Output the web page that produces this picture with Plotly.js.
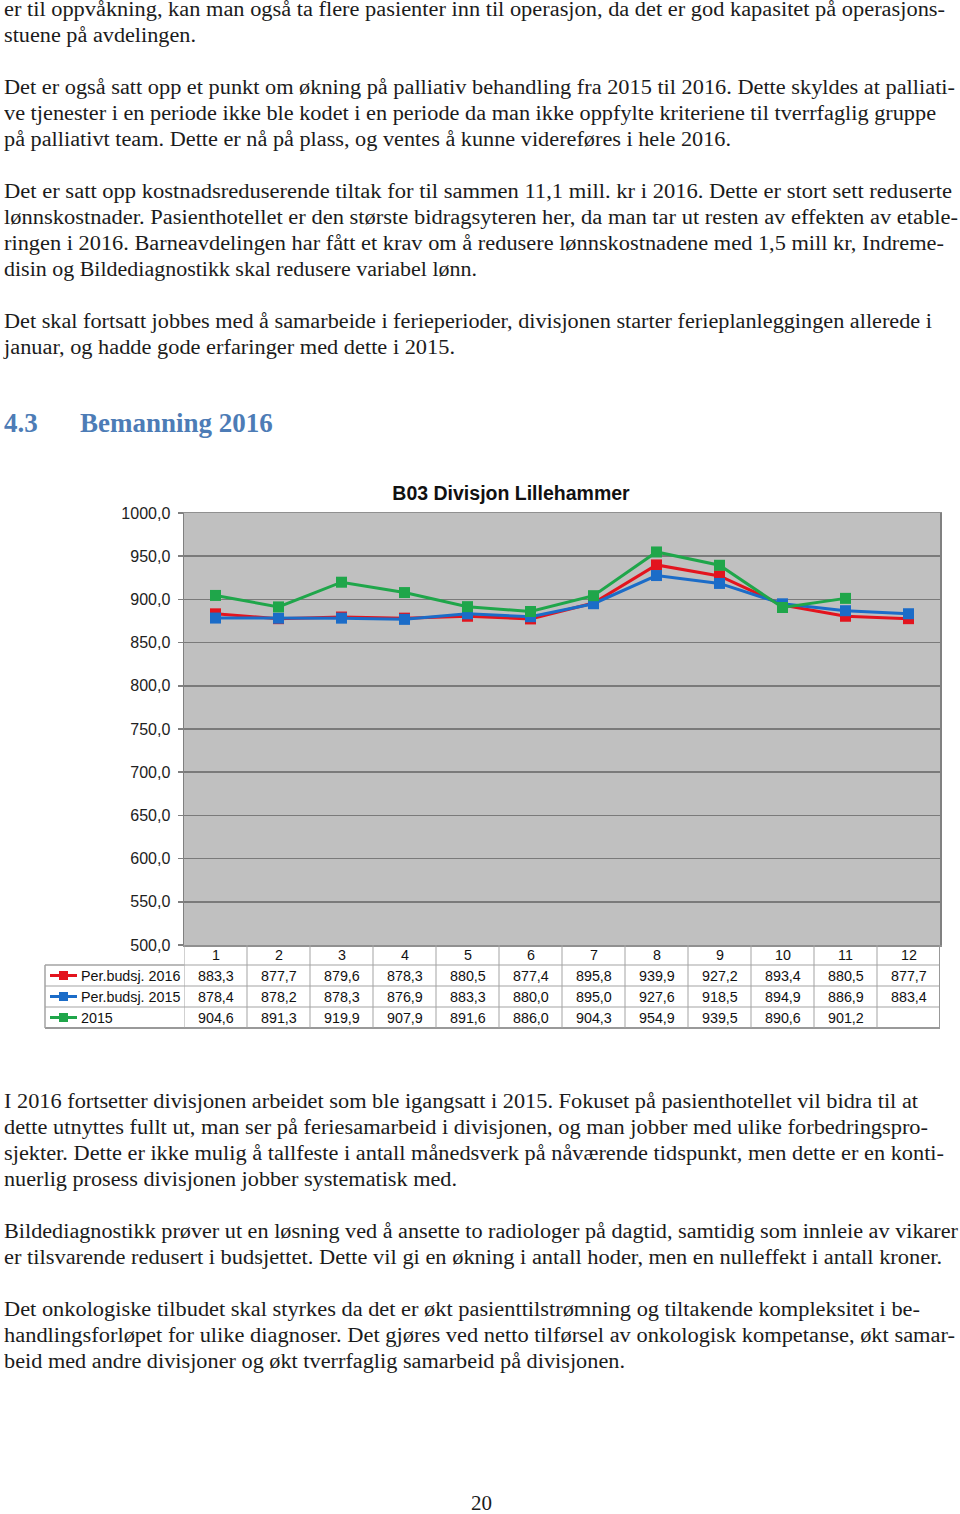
<!DOCTYPE html>
<html><head><meta charset="utf-8">
<script src="https://cdn.plot.ly/plotly-3.0.1.min.js"></script>
<style>
html,body{margin:0;padding:0;background:#fff;}
body{width:960px;height:1514px;position:relative;overflow:hidden;font-family:"Liberation Serif","DejaVu Serif",serif;}
.ln{position:absolute;left:4px;white-space:nowrap;font-size:20px;line-height:26px;color:#1b1b1b;transform-origin:0 50%;}
.hd{position:absolute;white-space:nowrap;font-size:27px;line-height:32px;font-weight:bold;color:#4d7cb6;}
#chart{position:absolute;left:0;top:470px;width:960px;height:570px;}
</style></head><body>
<div id="chart"></div>
<script>
// ---- chart data ----
const months = [1,2,3,4,5,6,7,8,9,10,11,12];
const budget2016 = [883.3,877.7,879.6,878.3,880.5,877.4,895.8,939.9,927.2,893.4,880.5,877.7];
const budget2015 = [878.4,878.2,878.3,876.9,883.3,880.0,895.0,927.6,918.5,894.9,886.9,883.4];
const actual2015 = [904.6,891.3,919.9,907.9,891.6,886.0,904.3,954.9,939.5,890.6,901.2,null];
const seriesNames = ['Per.budsj. 2016','Per.budsj. 2015','2015'];
const chartTitle = 'B03 Divisjon Lillehammer';

// ---- page text ----
const lines = [
 ['er til oppvåkning, kan man også ta flere pasienter inn til operasjon, da det er god kapasitet på operasjons-',9,945],
 ['stuene på avdelingen.',35,196],
 ['Det er også satt opp et punkt om økning på palliativ behandling fra 2015 til 2016. Dette skyldes at palliati-',87,955],
 ['ve tjenester i en periode ikke ble kodet i en periode da man ikke oppfylte kriteriene til tverrfaglig gruppe',113,936],
 ['på palliativt team. Dette er nå på plass, og ventes å kunne videreføres i hele 2016.',139,731],
 ['Det er satt opp kostnadsreduserende tiltak for til sammen 11,1 mill. kr i 2016. Dette er stort sett reduserte',191,952],
 ['lønnskostnader. Pasienthotellet er den største bidragsyteren her, da man tar ut resten av effekten av etable-',217,958],
 ['ringen i 2016. Barneavdelingen har fått et krav om å redusere lønnskostnadene med 1,5 mill kr, Indreme-',243,944],
 ['disin og Bildediagnostikk skal redusere variabel lønn.',269,477],
 ['Det skal fortsatt jobbes med å samarbeide i ferieperioder, divisjonen starter ferieplanleggingen allerede i',321,932],
 ['januar, og hadde gode erfaringer med dette i 2015.',347,455],
 ['I 2016 fortsetter divisjonen arbeidet som ble igangsatt i 2015. Fokuset på pasienthotellet vil bidra til at',1101,918],
 ['dette utnyttes fullt ut, man ser på feriesamarbeid i divisjonen, og man jobber med ulike forbedringspro-',1127,928],
 ['sjekter. Dette er ikke mulig å tallfeste i antall månedsverk på nåværende tidspunkt, men dette er en konti-',1153,944],
 ['nuerlig prosess divisjonen jobber systematisk med.',1179,457],
 ['Bildediagnostikk prøver ut en løsning ved å ansette to radiologer på dagtid, samtidig som innleie av vikarer',1231,958],
 ['er tilsvarende redusert i budsjettet. Dette vil gi en økning i antall hoder, men en nulleffekt i antall kroner.',1257,942],
 ['Det onkologiske tilbudet skal styrkes da det er økt pasienttilstrømning og tiltakende kompleksitet i be-',1309,920],
 ['handlingsforløpet for ulike diagnoser. Det gjøres ved netto tilførsel av onkologisk kompetanse, økt samar-',1335,955],
 ['beid med andre divisjoner og økt tverrfaglig samarbeid på divisjonen.',1361,625]
];
lines.forEach(([t,cy,right])=>{
  const d=document.createElement('div'); d.className='ln'; d.textContent=t;
  d.style.top=(cy-13)+'px'; document.body.appendChild(d);
  const w=d.getBoundingClientRect().width;
  d.style.transform='scaleX('+((right-4)/w).toFixed(4)+')';
});
function hd(t,x,cy){const d=document.createElement('div');d.className='hd';d.textContent=t;d.style.left=x+'px';d.style.top=(cy-16)+'px';document.body.appendChild(d);}
hd('4.3',4,423); hd('Bemanning 2016',80,423);
const pn=document.createElement('div'); pn.className='ln'; pn.textContent='20';
pn.style.left='471px'; pn.style.top=(1503-13)+'px'; pn.style.fontSize='21px'; document.body.appendChild(pn);

// ---- chart ----
const colors = ['#e3141e','#1b6cc8','#1fa64a'];
const series = [budget2016, budget2015, actual2015];
const H=570, W=960, mL=184, mR=20, mT=43, mB=95;
const plotW=W-mL-mR, plotH=H-mT-mB;
const px2py = p => -p/plotH;           // pixels below plot bottom -> paper y
const rowH=21, hdrH=20;
const legendLeftPx=45-mL;
const grid='#a3a3a3';
const tf={family:'Arial, Liberation Sans',size:14.3,color:'#111'};

const traces = series.map((ys,i)=>({
  x: months, y: ys, type:'scatter', mode:'lines+markers', name: seriesNames[i],
  line:{color:colors[i], width:3}, marker:{symbol:'square', size:11, color:colors[i]},
  connectgaps:false, hoverinfo:'skip'
}));

const shapes=[], ann=[];
const fmt = v => v==null ? '' : v.toFixed(1).replace('.',',');
const yHdrBot=px2py(hdrH);
const rowBot = k => px2py(hdrH+rowH*(k+1));
shapes.push({type:'line',xref:'paper',yref:'paper',x0:0,x1:1,y0:yHdrBot,y1:yHdrBot,line:{color:grid,width:1}});
shapes.push({type:'line',xref:'paper',yref:'paper',x0:legendLeftPx/plotW,x1:0,y0:yHdrBot,y1:yHdrBot,line:{color:grid,width:1.5}});
for(let k=0;k<3;k++){
  const y=rowBot(k);
  shapes.push({type:'line',xref:'paper',yref:'paper',x0:legendLeftPx/plotW,x1:1,y0:y,y1:y,line:{color:k==2?'#999':grid,width:k==2?2:1}});
}
for(let i=0;i<=months.length;i++){
  shapes.push({type:'line',xref:'x',yref:'paper',x0:i+0.5,x1:i+0.5,y0:0,y1:rowBot(2),line:{color:(i==months.length)?'#999':grid,width:(i==months.length)?2:1}});
}
shapes.push({type:'line',xref:'paper',yref:'paper',x0:legendLeftPx/plotW,x1:legendLeftPx/plotW,y0:yHdrBot,y1:rowBot(2),line:{color:grid,width:1.5}});
months.forEach(m=>ann.push({xref:'x',yref:'paper',x:m,y:px2py(hdrH/2),text:String(m),showarrow:false,xanchor:'center',yanchor:'middle',font:tf}));
series.forEach((ys,k)=>{
  const yc=px2py(hdrH+rowH*k+rowH/2);
  ys.forEach((v,j)=>ann.push({xref:'x',yref:'paper',x:months[j],y:yc,text:fmt(v),showarrow:false,xanchor:'center',yanchor:'middle',font:tf}));
  ann.push({xref:'paper',yref:'paper',x:(79-mL)/plotW,y:yc,text:seriesNames[k],showarrow:false,xanchor:'left',yanchor:'middle',font:tf});
  shapes.push({type:'line',xref:'paper',yref:'paper',x0:(50-mL)/plotW,x1:(77-mL)/plotW,y0:yc,y1:yc,line:{color:colors[k],width:3}});
  shapes.push({type:'rect',xref:'paper',yref:'paper',x0:(59-mL)/plotW,x1:(68-mL)/plotW,y0:yc-4.5/plotH,y1:yc+4.5/plotH,fillcolor:colors[k],line:{width:0}});
});

const layout = {
  width:W, height:H, margin:{l:mL,r:mR,t:mT,b:mB},
  paper_bgcolor:'rgba(0,0,0,0)', plot_bgcolor:'#c0c0c0',
  separators:', ',
  showlegend:false,
  title:{text:'<b>'+chartTitle+'</b>', font:{family:'Arial, Liberation Sans',size:19.5,color:'#111'}, xref:'paper', x:(511-mL)/plotW, xanchor:'center', yref:'container', y:1-23/H, yanchor:'middle'},
  xaxis:{range:[0.5,12.5], showticklabels:false, showgrid:false, zeroline:false, ticks:'', showline:true, linecolor:'#909090', linewidth:1.5, mirror:true, fixedrange:true},
  yaxis:{range:[500,1000], dtick:50, tick0:500, tickformat:'.1f', showgrid:true, gridcolor:'#7a7a7a', gridwidth:1.5, zeroline:false,
         ticks:'outside', ticklen:5, tickcolor:'#808080', tickwidth:1.5, showline:true, linecolor:'#808080', linewidth:1.5, mirror:true,
         tickfont:{family:'Arial, Liberation Sans',size:16,color:'#222'}, ticklabelstandoff:4},
  shapes:shapes, annotations:ann
};
Plotly.newPlot('chart', traces, layout, {staticPlot:true, displayModeBar:false});
</script>
</body></html>
